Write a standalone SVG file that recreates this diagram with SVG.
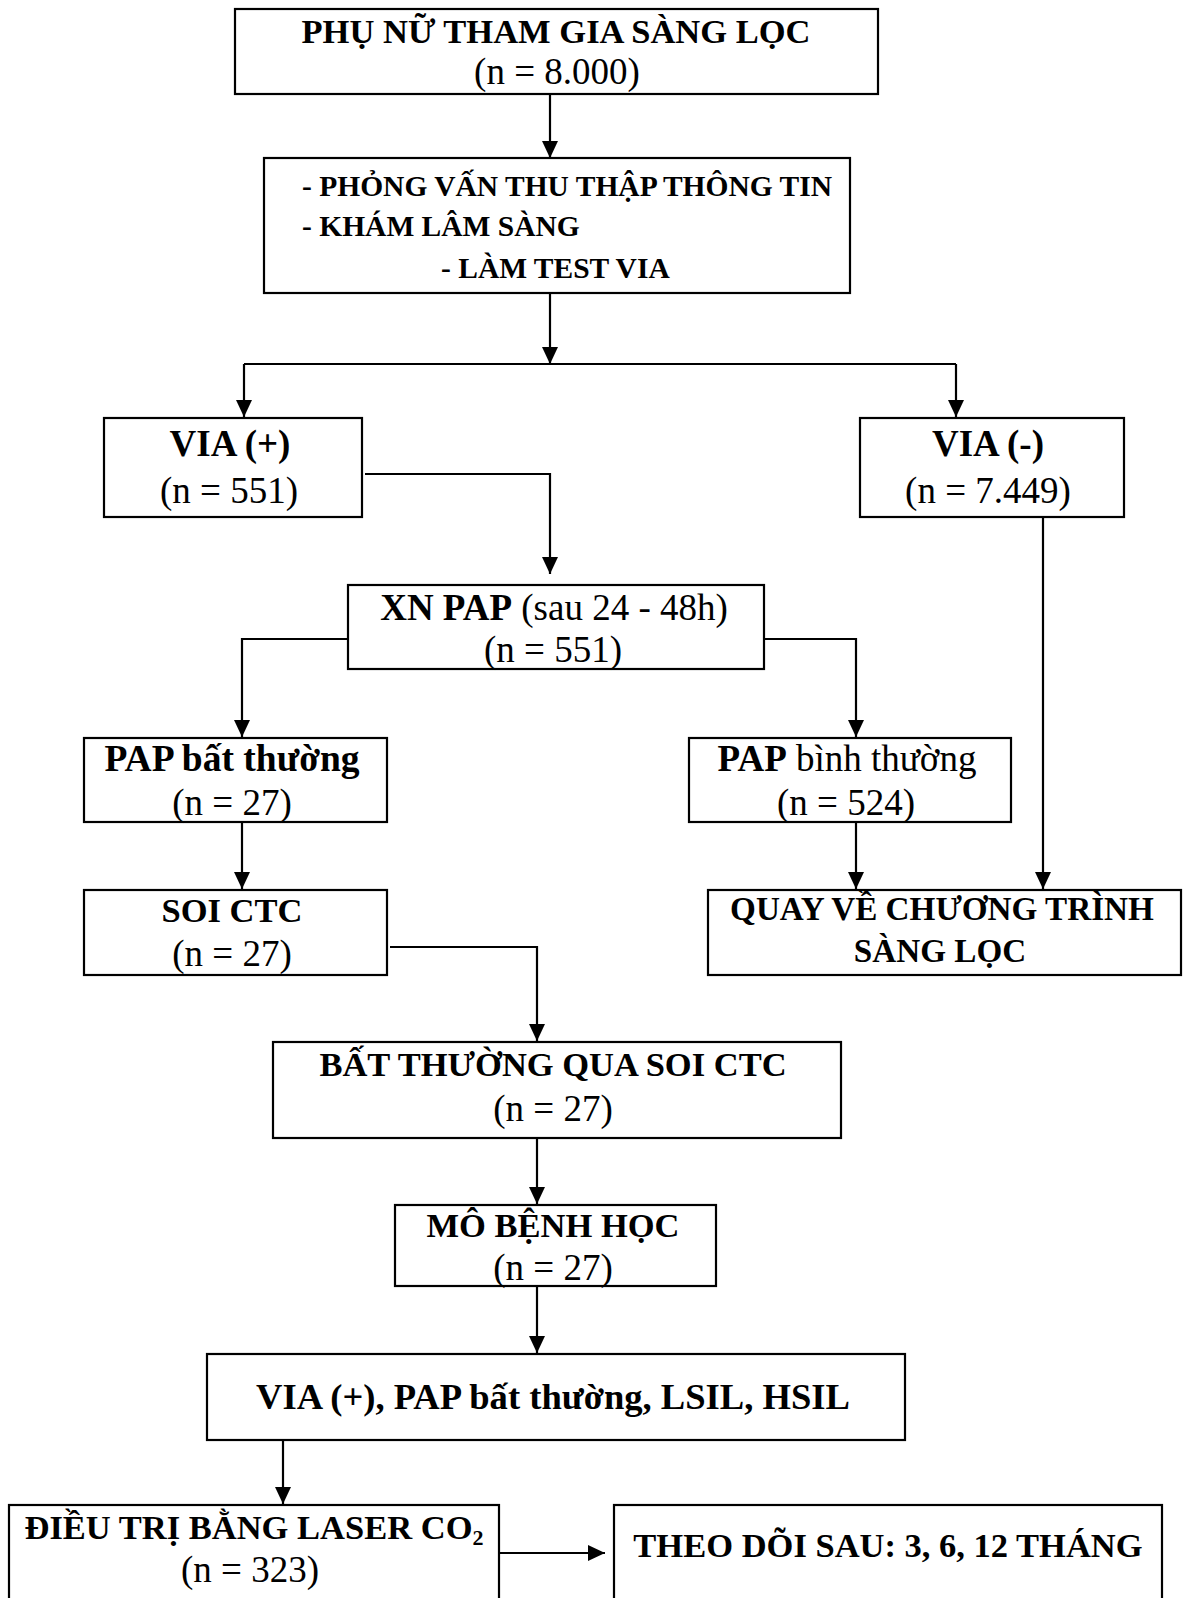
<svg xmlns="http://www.w3.org/2000/svg" width="1185" height="1598" viewBox="0 0 1185 1598">
<style>
rect.box{fill:#fff;stroke:#000;stroke-width:2.2}
text{font-family:"Liberation Serif","Times New Roman",serif;fill:#000}
.b{font-weight:bold}
.cap{font-size:34.5px;font-weight:bold}
.mid{font-size:37px}
.c{text-anchor:middle}
.conn path{fill:none;stroke:#000;stroke-width:2.2}
</style>
<defs>
<marker id="ah" markerUnits="userSpaceOnUse" markerWidth="18" markerHeight="18" refX="17" refY="9" orient="auto">
<path d="M0,1 L17,9 L0,17 z" fill="#000"/>
</marker>
</defs>
<rect width="1185" height="1598" fill="#fff"/>

<g class="conn" id="connectors">
<path d="M550,94 V158" marker-end="url(#ah)"/>
<path d="M550,293 V364" marker-end="url(#ah)"/>
<path d="M244,364 H956"/>
<path d="M244,364 V417" marker-end="url(#ah)"/>
<path d="M956,364 V417" marker-end="url(#ah)"/>
<path d="M365,474 H550 V574" marker-end="url(#ah)"/>
<path d="M348,639 H242 V737" marker-end="url(#ah)"/>
<path d="M764,639 H856 V737" marker-end="url(#ah)"/>
<path d="M242,822 V889" marker-end="url(#ah)"/>
<path d="M856,822 V889" marker-end="url(#ah)"/>
<path d="M1043,517 V889" marker-end="url(#ah)"/>
<path d="M390,947 H537 V1041" marker-end="url(#ah)"/>
<path d="M537,1138 V1204" marker-end="url(#ah)"/>
<path d="M537,1286 V1353" marker-end="url(#ah)"/>
<path d="M283,1440 V1504" marker-end="url(#ah)"/>
<path d="M499,1553 H605" marker-end="url(#ah)"/>
</g>

<g id="n1">
<rect class="box" x="235" y="9" width="643" height="85"/>
<text class="cap c" x="556" y="43">PHỤ NỮ THAM GIA SÀNG LỌC</text>
<text class="mid c" x="557" y="84">(n = 8.000)</text>
</g>

<g id="n2">
<rect class="box" x="264" y="158" width="586" height="135"/>
<text class="b" font-size="29.5" x="302" y="196">- PHỎNG VẤN THU THẬP THÔNG TIN</text>
<text class="b" font-size="29.5" x="302" y="236">- KHÁM LÂM SÀNG</text>
<text class="b" font-size="29.5" x="441" y="278">- LÀM TEST VIA</text>
</g>

<g id="n3">
<rect class="box" x="104" y="418" width="258" height="99"/>
<text class="mid b c" x="230" y="456">VIA (+)</text>
<text class="mid c" x="229" y="503">(n = 551)</text>
</g>

<g id="n4">
<rect class="box" x="860" y="418" width="264" height="99"/>
<text class="mid b c" x="988" y="456">VIA (-)</text>
<text class="mid c" x="988" y="503">(n = 7.449)</text>
</g>

<g id="n5">
<rect class="box" x="348" y="585" width="416" height="84"/>
<text class="mid c" x="554" y="620"><tspan class="b">XN PAP</tspan> (sau 24 - 48h)</text>
<text class="mid c" x="553" y="662">(n = 551)</text>
</g>

<g id="n6">
<rect class="box" x="84" y="738" width="303" height="84"/>
<text class="b c" font-size="37.5" x="232" y="771">PAP bất thường</text>
<text class="mid c" x="232" y="815">(n = 27)</text>
</g>

<g id="n7">
<rect class="box" x="689" y="738" width="322" height="84"/>
<text class="mid c" x="847" y="771"><tspan class="b">PAP</tspan> bình thường</text>
<text class="mid c" x="846" y="815">(n = 524)</text>
</g>

<g id="n8">
<rect class="box" x="84" y="890" width="303" height="85"/>
<text class="cap c" x="232" y="922">SOI CTC</text>
<text class="mid c" x="232" y="966">(n = 27)</text>
</g>

<g id="n9">
<rect class="box" x="708" y="890" width="473" height="85"/>
<text class="b c" font-size="33.2" x="942" y="920">QUAY VỀ CHƯƠNG TRÌNH</text>
<text class="b c" font-size="33.2" x="940" y="962">SÀNG LỌC</text>
</g>

<g id="n10">
<rect class="box" x="273" y="1042" width="568" height="96"/>
<text class="cap c" x="553" y="1076">BẤT THƯỜNG QUA SOI CTC</text>
<text class="mid c" x="553" y="1121">(n = 27)</text>
</g>

<g id="n11">
<rect class="box" x="395" y="1205" width="321" height="81"/>
<text class="cap c" x="553" y="1237">MÔ BỆNH HỌC</text>
<text class="mid c" x="553" y="1280">(n = 27)</text>
</g>

<g id="n12">
<rect class="box" x="207" y="1354" width="698" height="86"/>
<text class="b c" font-size="36.6" x="553" y="1409">VIA (+), PAP bất thường, LSIL, HSIL</text>
</g>

<g id="n13">
<rect class="box" x="9" y="1505" width="490" height="110"/>
<text class="cap c" x="254" y="1539">ĐIỀU TRỊ BẰNG LASER CO<tspan font-size="22" dy="6">2</tspan></text>
<text class="mid c" x="250" y="1582">(n = 323)</text>
</g>

<g id="n14">
<rect class="box" x="614" y="1505" width="548" height="110"/>
<text class="cap c" x="888" y="1557">THEO DÕI SAU: 3, 6, 12 THÁNG</text>
</g>
</svg>
